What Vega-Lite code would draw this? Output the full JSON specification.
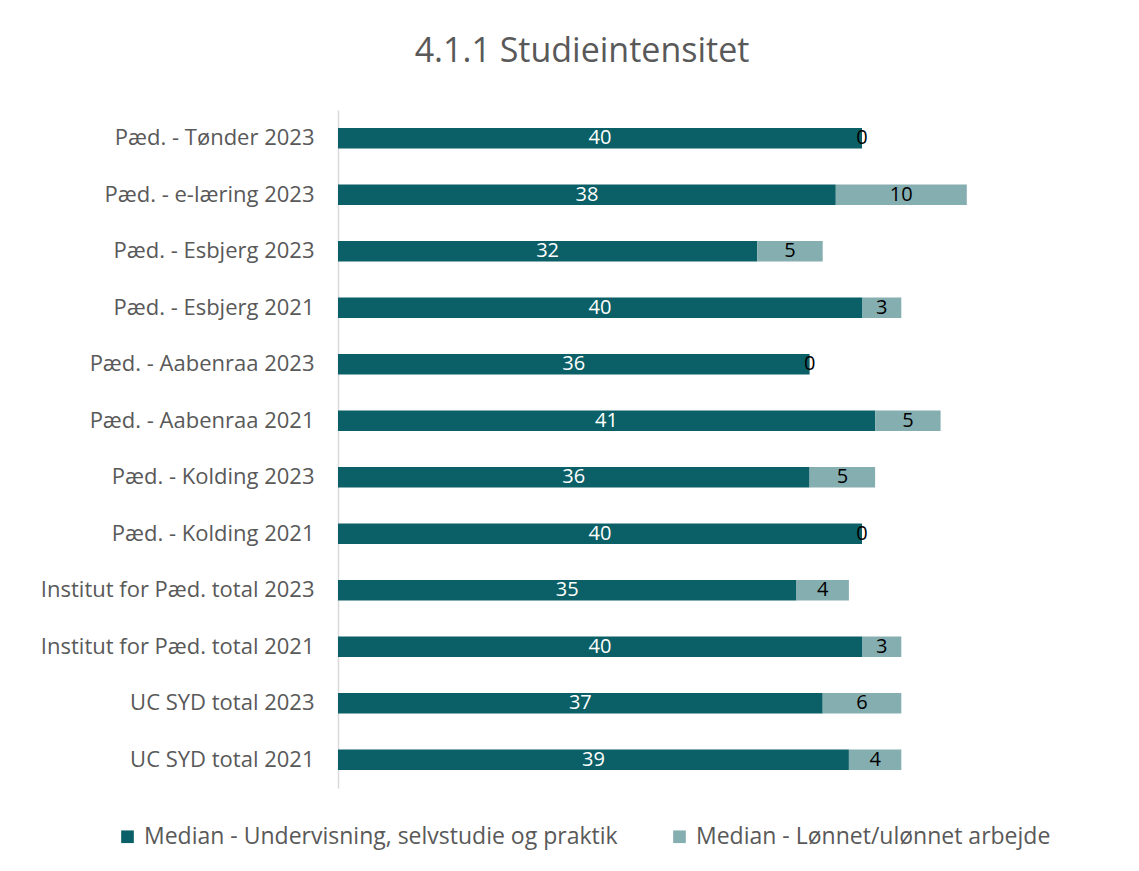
{
  "$schema": "https://vega.github.io/schema/vega-lite/v6.json",
  "autosize": {"type": "none"},
  "padding": {"left": 338, "top": 110, "right": 15, "bottom": 83},
  "width": 786,
  "height": 678,
  "background": "white",
  "title": {
    "text": "4.1.1 Studieintensitet",
    "fontSize": 34,
    "font": "Open Sans",
    "fontWeight": "normal",
    "color": "#595959",
    "anchor": "middle",
    "dx": -149,
    "offset": 41
  },
  "config": {
    "font": "Open Sans",
    "view": {"stroke": null}
  },
  "data": {
    "values": [
      {"cat": "Pæd. - Tønder 2023", "series": "Median - Undervisning, selvstudie og praktik", "k": 1, "value": 40},
      {"cat": "Pæd. - Tønder 2023", "series": "Median - Lønnet/ulønnet arbejde", "k": 2, "value": 0},
      {"cat": "Pæd. - e-læring 2023", "series": "Median - Undervisning, selvstudie og praktik", "k": 1, "value": 38},
      {"cat": "Pæd. - e-læring 2023", "series": "Median - Lønnet/ulønnet arbejde", "k": 2, "value": 10},
      {"cat": "Pæd. - Esbjerg 2023", "series": "Median - Undervisning, selvstudie og praktik", "k": 1, "value": 32},
      {"cat": "Pæd. - Esbjerg 2023", "series": "Median - Lønnet/ulønnet arbejde", "k": 2, "value": 5},
      {"cat": "Pæd. - Esbjerg 2021", "series": "Median - Undervisning, selvstudie og praktik", "k": 1, "value": 40},
      {"cat": "Pæd. - Esbjerg 2021", "series": "Median - Lønnet/ulønnet arbejde", "k": 2, "value": 3},
      {"cat": "Pæd. - Aabenraa 2023", "series": "Median - Undervisning, selvstudie og praktik", "k": 1, "value": 36},
      {"cat": "Pæd. - Aabenraa 2023", "series": "Median - Lønnet/ulønnet arbejde", "k": 2, "value": 0},
      {"cat": "Pæd. - Aabenraa 2021", "series": "Median - Undervisning, selvstudie og praktik", "k": 1, "value": 41},
      {"cat": "Pæd. - Aabenraa 2021", "series": "Median - Lønnet/ulønnet arbejde", "k": 2, "value": 5},
      {"cat": "Pæd. - Kolding 2023", "series": "Median - Undervisning, selvstudie og praktik", "k": 1, "value": 36},
      {"cat": "Pæd. - Kolding 2023", "series": "Median - Lønnet/ulønnet arbejde", "k": 2, "value": 5},
      {"cat": "Pæd. - Kolding 2021", "series": "Median - Undervisning, selvstudie og praktik", "k": 1, "value": 40},
      {"cat": "Pæd. - Kolding 2021", "series": "Median - Lønnet/ulønnet arbejde", "k": 2, "value": 0},
      {"cat": "Institut for Pæd. total 2023", "series": "Median - Undervisning, selvstudie og praktik", "k": 1, "value": 35},
      {"cat": "Institut for Pæd. total 2023", "series": "Median - Lønnet/ulønnet arbejde", "k": 2, "value": 4},
      {"cat": "Institut for Pæd. total 2021", "series": "Median - Undervisning, selvstudie og praktik", "k": 1, "value": 40},
      {"cat": "Institut for Pæd. total 2021", "series": "Median - Lønnet/ulønnet arbejde", "k": 2, "value": 3},
      {"cat": "UC SYD total 2023", "series": "Median - Undervisning, selvstudie og praktik", "k": 1, "value": 37},
      {"cat": "UC SYD total 2023", "series": "Median - Lønnet/ulønnet arbejde", "k": 2, "value": 6},
      {"cat": "UC SYD total 2021", "series": "Median - Undervisning, selvstudie og praktik", "k": 1, "value": 39},
      {"cat": "UC SYD total 2021", "series": "Median - Lønnet/ulønnet arbejde", "k": 2, "value": 4}
    ]
  },
  "encoding": {
    "y": {
      "field": "cat",
      "type": "nominal",
      "sort": null,
      "scale": {"paddingInner": 0.64, "paddingOuter": 0.32},
      "axis": {
        "title": null,
        "ticks": false,
        "domain": true,
        "domainColor": "#d9d9d9",
        "domainWidth": 1.5,
        "labelPadding": 24,
        "labelFontSize": 22,
        "labelColor": "#595959",
        "labelFont": "Open Sans",
        "labelLimit": 400
      }
    }
  },
  "layer": [
    {
      "mark": {"type": "bar"},
      "encoding": {
        "x": {
          "field": "value",
          "type": "quantitative",
          "stack": "zero",
          "scale": {"domain": [0, 60], "nice": false},
          "axis": null
        },
        "order": {"field": "k", "type": "quantitative"},
        "color": {
          "field": "series",
          "type": "nominal",
          "sort": ["Median - Undervisning, selvstudie og praktik", "Median - Lønnet/ulønnet arbejde"],
          "scale": {
            "domain": ["Median - Undervisning, selvstudie og praktik", "Median - Lønnet/ulønnet arbejde"],
            "range": ["#0b5f66", "#85aeb1"]
          },
          "legend": {
            "title": null,
            "orient": "none",
            "direction": "horizontal",
            "legendX": -222,
            "legendY": 715,
            "symbolType": "square",
            "symbolSize": 160,
            "symbolStrokeWidth": 0,
            "labelFontSize": 23,
            "labelColor": "#595959",
            "labelFont": "Open Sans",
            "labelLimit": 700,
            "columnPadding": 50,
            "labelOffset": 5
          }
        }
      }
    },
    {
      "mark": {"type": "text", "fontSize": 20, "font": "Open Sans", "baseline": "middle", "align": "center"},
      "encoding": {
        "x": {
          "field": "value",
          "type": "quantitative",
          "stack": "zero",
          "bandPosition": 0.5
        },
        "order": {"field": "k", "type": "quantitative"},
        "detail": {"field": "series", "type": "nominal"},
        "text": {"field": "value", "type": "quantitative"},
        "color": {
          "condition": {"test": "datum.k == 1", "value": "white"},
          "value": "black"
        }
      }
    }
  ]
}
